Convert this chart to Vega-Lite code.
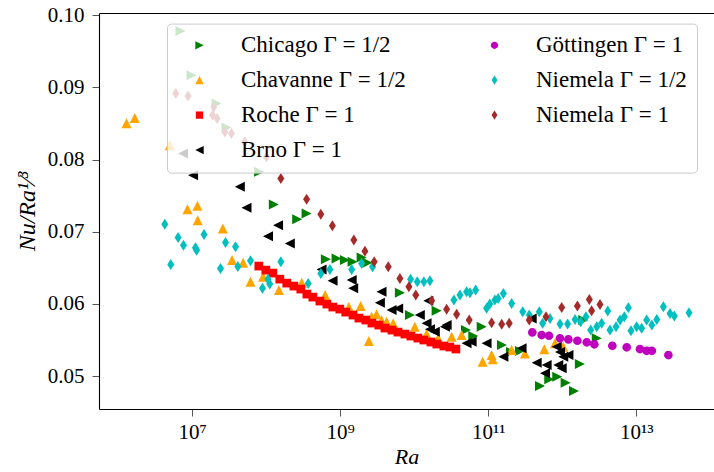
{
  "$schema": "https://vega.github.io/schema/vega-lite/v6.json",
  "width": 615,
  "height": 396,
  "autosize": {"type": "none"},
  "padding": {"left": 99, "top": 13, "right": 0, "bottom": 63},
  "background": "white",
  "config": {
    "font": "Liberation Serif",
    "view": {"stroke": null},
    "axis": {"grid": false, "domainColor": "#000000", "domainWidth": 1.1, "tickColor": "#555555", "tickSize": 7, "tickWidth": 1, "labelFont": "Liberation Serif", "labelFontSize": 21, "labelColor": "#000000", "titleFont": "Liberation Serif", "titleFontSize": 22, "titleFontWeight": "normal", "titleFontStyle": "italic", "titleColor": "#000000"}
  },
  "datasets": {
    "pts": [
      {"s": "Chicago Γ = 1/2", "Ra": 6.97e6, "Nu": 0.09782},
      {"s": "Chicago Γ = 1/2", "Ra": 9.82e6, "Nu": 0.09169},
      {"s": "Chicago Γ = 1/2", "Ra": 2.14e7, "Nu": 0.08777},
      {"s": "Chicago Γ = 1/2", "Ra": 2.92e7, "Nu": 0.08444},
      {"s": "Chicago Γ = 1/2", "Ra": 8.04e7, "Nu": 0.0783},
      {"s": "Chicago Γ = 1/2", "Ra": 1.27e8, "Nu": 0.07378},
      {"s": "Chicago Γ = 1/2", "Ra": 2.63e8, "Nu": 0.07174},
      {"s": "Chicago Γ = 1/2", "Ra": 3.52e8, "Nu": 0.07253},
      {"s": "Chicago Γ = 1/2", "Ra": 6.41e8, "Nu": 0.0662},
      {"s": "Chicago Γ = 1/2", "Ra": 8.94e8, "Nu": 0.0663},
      {"s": "Chicago Γ = 1/2", "Ra": 1.16e9, "Nu": 0.06607},
      {"s": "Chicago Γ = 1/2", "Ra": 1.47e9, "Nu": 0.06583},
      {"s": "Chicago Γ = 1/2", "Ra": 1.95e9, "Nu": 0.06644},
      {"s": "Chicago Γ = 1/2", "Ra": 2.34e9, "Nu": 0.06569},
      {"s": "Chicago Γ = 1/2", "Ra": 6.41e9, "Nu": 0.06154},
      {"s": "Chicago Γ = 1/2", "Ra": 8.75e9, "Nu": 0.05845},
      {"s": "Chicago Γ = 1/2", "Ra": 2.01e10, "Nu": 0.05904},
      {"s": "Chicago Γ = 1/2", "Ra": 5.0e10, "Nu": 0.05637},
      {"s": "Chicago Γ = 1/2", "Ra": 6.27e10, "Nu": 0.05554},
      {"s": "Chicago Γ = 1/2", "Ra": 8.15e10, "Nu": 0.05683},
      {"s": "Chicago Γ = 1/2", "Ra": 1.53e11, "Nu": 0.05429},
      {"s": "Chicago Γ = 1/2", "Ra": 2.03e11, "Nu": 0.05332},
      {"s": "Chicago Γ = 1/2", "Ra": 2.68e11, "Nu": 0.05346},
      {"s": "Chicago Γ = 1/2", "Ra": 5.0e11, "Nu": 0.04861},
      {"s": "Chicago Γ = 1/2", "Ra": 6.67e11, "Nu": 0.04954},
      {"s": "Chicago Γ = 1/2", "Ra": 8.55e11, "Nu": 0.0499},
      {"s": "Chicago Γ = 1/2", "Ra": 1.11e12, "Nu": 0.04907},
      {"s": "Chicago Γ = 1/2", "Ra": 1.44e12, "Nu": 0.04792},
      {"s": "Chicago Γ = 1/2", "Ra": 1.73e12, "Nu": 0.05166},
      {"s": "Chicago Γ = 1/2", "Ra": 1.92e12, "Nu": 0.05776},
      {"s": "Chicago Γ = 1/2", "Ra": 2.92e12, "Nu": 0.05522},
      {"s": "Chavanne Γ = 1/2", "Ra": 1.3e6, "Nu": 0.08504},
      {"s": "Chavanne Γ = 1/2", "Ra": 1.68e6, "Nu": 0.08578},
      {"s": "Chavanne Γ = 1/2", "Ra": 5.0e6, "Nu": 0.08199},
      {"s": "Chavanne Γ = 1/2", "Ra": 8.67e6, "Nu": 0.07313},
      {"s": "Chavanne Γ = 1/2", "Ra": 1.18e7, "Nu": 0.07359},
      {"s": "Chavanne Γ = 1/2", "Ra": 1.19e7, "Nu": 0.07161},
      {"s": "Chavanne Γ = 1/2", "Ra": 2.6e7, "Nu": 0.07046},
      {"s": "Chavanne Γ = 1/2", "Ra": 3.47e7, "Nu": 0.06607},
      {"s": "Chavanne Γ = 1/2", "Ra": 4.89e7, "Nu": 0.06569},
      {"s": "Chavanne Γ = 1/2", "Ra": 6.15e7, "Nu": 0.06306},
      {"s": "Chavanne Γ = 1/2", "Ra": 9.1e7, "Nu": 0.06375},
      {"s": "Chavanne Γ = 1/2", "Ra": 1.49e8, "Nu": 0.06191},
      {"s": "Chavanne Γ = 1/2", "Ra": 3.03e8, "Nu": 0.06292},
      {"s": "Chavanne Γ = 1/2", "Ra": 6.27e8, "Nu": 0.06122},
      {"s": "Chavanne Γ = 1/2", "Ra": 1.31e9, "Nu": 0.0596},
      {"s": "Chavanne Γ = 1/2", "Ra": 1.89e9, "Nu": 0.0597},
      {"s": "Chavanne Γ = 1/2", "Ra": 2.44e9, "Nu": 0.05485},
      {"s": "Chavanne Γ = 1/2", "Ra": 2.66e9, "Nu": 0.05821},
      {"s": "Chavanne Γ = 1/2", "Ra": 3.1e9, "Nu": 0.05855},
      {"s": "Chavanne Γ = 1/2", "Ra": 3.62e9, "Nu": 0.05776},
      {"s": "Chavanne Γ = 1/2", "Ra": 4.24e9, "Nu": 0.05752},
      {"s": "Chavanne Γ = 1/2", "Ra": 5.2e9, "Nu": 0.0573},
      {"s": "Chavanne Γ = 1/2", "Ra": 1.02e10, "Nu": 0.05683},
      {"s": "Chavanne Γ = 1/2", "Ra": 1.47e10, "Nu": 0.05582},
      {"s": "Chavanne Γ = 1/2", "Ra": 2.11e10, "Nu": 0.05522},
      {"s": "Chavanne Γ = 1/2", "Ra": 3.2e10, "Nu": 0.05545},
      {"s": "Chavanne Γ = 1/2", "Ra": 4.37e10, "Nu": 0.05568},
      {"s": "Chavanne Γ = 1/2", "Ra": 8.4e10, "Nu": 0.05198},
      {"s": "Chavanne Γ = 1/2", "Ra": 1.11e11, "Nu": 0.05291},
      {"s": "Chavanne Γ = 1/2", "Ra": 1.15e11, "Nu": 0.05231},
      {"s": "Chavanne Γ = 1/2", "Ra": 2.07e11, "Nu": 0.0536},
      {"s": "Chavanne Γ = 1/2", "Ra": 3.13e11, "Nu": 0.05314},
      {"s": "Chavanne Γ = 1/2", "Ra": 5.71e11, "Nu": 0.0537},
      {"s": "Chavanne Γ = 1/2", "Ra": 7.96e11, "Nu": 0.05453},
      {"s": "Chavanne Γ = 1/2", "Ra": 1.03e12, "Nu": 0.05406},
      {"s": "Roche Γ = 1", "Ra": 7.96e7, "Nu": 0.06524},
      {"s": "Roche Γ = 1", "Ra": 9.9e7, "Nu": 0.06468},
      {"s": "Roche Γ = 1", "Ra": 1.23e8, "Nu": 0.06427},
      {"s": "Roche Γ = 1", "Ra": 1.53e8, "Nu": 0.06343},
      {"s": "Roche Γ = 1", "Ra": 1.9e8, "Nu": 0.06288},
      {"s": "Roche Γ = 1", "Ra": 2.37e8, "Nu": 0.06247},
      {"s": "Roche Γ = 1", "Ra": 2.94e8, "Nu": 0.06205},
      {"s": "Roche Γ = 1", "Ra": 3.55e8, "Nu": 0.06136},
      {"s": "Roche Γ = 1", "Ra": 4.28e8, "Nu": 0.06094},
      {"s": "Roche Γ = 1", "Ra": 5.32e8, "Nu": 0.06039},
      {"s": "Roche Γ = 1", "Ra": 6.61e8, "Nu": 0.05997},
      {"s": "Roche Γ = 1", "Ra": 7.96e8, "Nu": 0.05956},
      {"s": "Roche Γ = 1", "Ra": 9.9e8, "Nu": 0.05928},
      {"s": "Roche Γ = 1", "Ra": 1.19e9, "Nu": 0.05886},
      {"s": "Roche Γ = 1", "Ra": 1.49e9, "Nu": 0.05845},
      {"s": "Roche Γ = 1", "Ra": 1.79e9, "Nu": 0.05803},
      {"s": "Roche Γ = 1", "Ra": 2.22e9, "Nu": 0.05776},
      {"s": "Roche Γ = 1", "Ra": 2.68e9, "Nu": 0.05734},
      {"s": "Roche Γ = 1", "Ra": 3.33e9, "Nu": 0.05706},
      {"s": "Roche Γ = 1", "Ra": 4.02e9, "Nu": 0.05665},
      {"s": "Roche Γ = 1", "Ra": 5.0e9, "Nu": 0.05637},
      {"s": "Roche Γ = 1", "Ra": 6.03e9, "Nu": 0.05609},
      {"s": "Roche Γ = 1", "Ra": 7.48e9, "Nu": 0.05582},
      {"s": "Roche Γ = 1", "Ra": 9.02e9, "Nu": 0.05554},
      {"s": "Roche Γ = 1", "Ra": 1.12e10, "Nu": 0.05526},
      {"s": "Roche Γ = 1", "Ra": 1.35e10, "Nu": 0.05499},
      {"s": "Roche Γ = 1", "Ra": 1.68e10, "Nu": 0.05471},
      {"s": "Roche Γ = 1", "Ra": 2.02e10, "Nu": 0.05443},
      {"s": "Roche Γ = 1", "Ra": 2.52e10, "Nu": 0.05416},
      {"s": "Roche Γ = 1", "Ra": 3.03e10, "Nu": 0.05402},
      {"s": "Roche Γ = 1", "Ra": 3.66e10, "Nu": 0.05374},
      {"s": "Brno Γ = 1", "Ra": 7.55e6, "Nu": 0.08084},
      {"s": "Brno Γ = 1", "Ra": 1.03e7, "Nu": 0.07784},
      {"s": "Brno Γ = 1", "Ra": 4.41e7, "Nu": 0.07622},
      {"s": "Brno Γ = 1", "Ra": 5.43e7, "Nu": 0.07331},
      {"s": "Brno Γ = 1", "Ra": 1.45e8, "Nu": 0.07091},
      {"s": "Brno Γ = 1", "Ra": 1.06e8, "Nu": 0.06939},
      {"s": "Brno Γ = 1", "Ra": 2.09e8, "Nu": 0.06838},
      {"s": "Brno Γ = 1", "Ra": 5.61e8, "Nu": 0.06478},
      {"s": "Brno Γ = 1", "Ra": 7.89e8, "Nu": 0.0632},
      {"s": "Brno Γ = 1", "Ra": 1.43e9, "Nu": 0.0633},
      {"s": "Brno Γ = 1", "Ra": 1.5e9, "Nu": 0.06215},
      {"s": "Brno Γ = 1", "Ra": 3.62e9, "Nu": 0.06168},
      {"s": "Brno Γ = 1", "Ra": 3.44e9, "Nu": 0.06015},
      {"s": "Brno Γ = 1", "Ra": 4.95e9, "Nu": 0.05914},
      {"s": "Brno Γ = 1", "Ra": 6.08e9, "Nu": 0.05937},
      {"s": "Brno Γ = 1", "Ra": 1.19e10, "Nu": 0.05845},
      {"s": "Brno Γ = 1", "Ra": 1.55e10, "Nu": 0.06043},
      {"s": "Brno Γ = 1", "Ra": 1.47e10, "Nu": 0.0573},
      {"s": "Brno Γ = 1", "Ra": 1.63e10, "Nu": 0.05647},
      {"s": "Brno Γ = 1", "Ra": 1.9e10, "Nu": 0.05614},
      {"s": "Brno Γ = 1", "Ra": 2.6e10, "Nu": 0.05683},
      {"s": "Brno Γ = 1", "Ra": 2.74e10, "Nu": 0.05706},
      {"s": "Brno Γ = 1", "Ra": 5.1e10, "Nu": 0.05453},
      {"s": "Brno Γ = 1", "Ra": 5.97e10, "Nu": 0.05475},
      {"s": "Brno Γ = 1", "Ra": 9.5e10, "Nu": 0.05453},
      {"s": "Brno Γ = 1", "Ra": 1.6e11, "Nu": 0.05267},
      {"s": "Brno Γ = 1", "Ra": 2.82e11, "Nu": 0.05384},
      {"s": "Brno Γ = 1", "Ra": 3.86e11, "Nu": 0.05799},
      {"s": "Brno Γ = 1", "Ra": 4.51e11, "Nu": 0.05184},
      {"s": "Brno Γ = 1", "Ra": 6.15e11, "Nu": 0.05152},
      {"s": "Brno Γ = 1", "Ra": 5.84e11, "Nu": 0.05037},
      {"s": "Brno Γ = 1", "Ra": 8.4e11, "Nu": 0.05406},
      {"s": "Brno Γ = 1", "Ra": 9.31e11, "Nu": 0.05332},
      {"s": "Brno Γ = 1", "Ra": 1.03e12, "Nu": 0.05267},
      {"s": "Brno Γ = 1", "Ra": 1.21e12, "Nu": 0.05291},
      {"s": "Brno Γ = 1", "Ra": 8.83e11, "Nu": 0.05152},
      {"s": "Brno Γ = 1", "Ra": 9.82e11, "Nu": 0.05107},
      {"s": "Göttingen Γ = 1", "Ra": 3.94e11, "Nu": 0.05605},
      {"s": "Göttingen Γ = 1", "Ra": 5.27e11, "Nu": 0.05568},
      {"s": "Göttingen Γ = 1", "Ra": 6.61e11, "Nu": 0.05558},
      {"s": "Göttingen Γ = 1", "Ra": 9.31e11, "Nu": 0.05522},
      {"s": "Göttingen Γ = 1", "Ra": 1.21e12, "Nu": 0.05508},
      {"s": "Göttingen Γ = 1", "Ra": 1.6e12, "Nu": 0.05489},
      {"s": "Göttingen Γ = 1", "Ra": 2.14e12, "Nu": 0.05467},
      {"s": "Göttingen Γ = 1", "Ra": 2.71e12, "Nu": 0.05439},
      {"s": "Göttingen Γ = 1", "Ra": 4.74e12, "Nu": 0.0542},
      {"s": "Göttingen Γ = 1", "Ra": 7.42e12, "Nu": 0.05398},
      {"s": "Göttingen Γ = 1", "Ra": 1.12e13, "Nu": 0.05374},
      {"s": "Göttingen Γ = 1", "Ra": 1.38e13, "Nu": 0.0535},
      {"s": "Göttingen Γ = 1", "Ra": 1.62e13, "Nu": 0.0535},
      {"s": "Göttingen Γ = 1", "Ra": 2.71e13, "Nu": 0.05291},
      {"s": "Niemela Γ = 1/2", "Ra": 4.28e6, "Nu": 0.07105},
      {"s": "Niemela Γ = 1/2", "Ra": 5.15e6, "Nu": 0.06547},
      {"s": "Niemela Γ = 1/2", "Ra": 6.47e6, "Nu": 0.06921},
      {"s": "Niemela Γ = 1/2", "Ra": 7.65e6, "Nu": 0.06814},
      {"s": "Niemela Γ = 1/2", "Ra": 1.11e7, "Nu": 0.06777},
      {"s": "Niemela Γ = 1/2", "Ra": 1.15e7, "Nu": 0.06745},
      {"s": "Niemela Γ = 1/2", "Ra": 1.45e7, "Nu": 0.06963},
      {"s": "Niemela Γ = 1/2", "Ra": 2.42e7, "Nu": 0.06492},
      {"s": "Niemela Γ = 1/2", "Ra": 2.83e7, "Nu": 0.06852},
      {"s": "Niemela Γ = 1/2", "Ra": 3.86e7, "Nu": 0.06791},
      {"s": "Niemela Γ = 1/2", "Ra": 4.15e7, "Nu": 0.06517},
      {"s": "Niemela Γ = 1/2", "Ra": 6.15e7, "Nu": 0.06597},
      {"s": "Niemela Γ = 1/2", "Ra": 8.93e7, "Nu": 0.06215},
      {"s": "Niemela Γ = 1/2", "Ra": 1.06e8, "Nu": 0.06343},
      {"s": "Niemela Γ = 1/2", "Ra": 1.12e8, "Nu": 0.06274},
      {"s": "Niemela Γ = 1/2", "Ra": 1.58e8, "Nu": 0.06583},
      {"s": "Niemela Γ = 1/2", "Ra": 3.7e8, "Nu": 0.06284},
      {"s": "Niemela Γ = 1/2", "Ra": 5.48e8, "Nu": 0.06422},
      {"s": "Niemela Γ = 1/2", "Ra": 7.26e8, "Nu": 0.06478},
      {"s": "Niemela Γ = 1/2", "Ra": 1.43e9, "Nu": 0.06478},
      {"s": "Niemela Γ = 1/2", "Ra": 1.95e9, "Nu": 0.06561},
      {"s": "Niemela Γ = 1/2", "Ra": 2.74e9, "Nu": 0.06514},
      {"s": "Niemela Γ = 1/2", "Ra": 8.93e9, "Nu": 0.06343},
      {"s": "Niemela Γ = 1/2", "Ra": 1.1e10, "Nu": 0.06306},
      {"s": "Niemela Γ = 1/2", "Ra": 1.35e10, "Nu": 0.06306},
      {"s": "Niemela Γ = 1/2", "Ra": 1.63e10, "Nu": 0.0632},
      {"s": "Niemela Γ = 1/2", "Ra": 3.44e10, "Nu": 0.06053},
      {"s": "Niemela Γ = 1/2", "Ra": 4.15e10, "Nu": 0.06122},
      {"s": "Niemela Γ = 1/2", "Ra": 5.1e10, "Nu": 0.06168},
      {"s": "Niemela Γ = 1/2", "Ra": 5.66e10, "Nu": 0.06154},
      {"s": "Niemela Γ = 1/2", "Ra": 6.76e10, "Nu": 0.06191},
      {"s": "Niemela Γ = 1/2", "Ra": 9.5e10, "Nu": 0.05938},
      {"s": "Niemela Γ = 1/2", "Ra": 1.05e11, "Nu": 0.05997},
      {"s": "Niemela Γ = 1/2", "Ra": 1.23e11, "Nu": 0.06053},
      {"s": "Niemela Γ = 1/2", "Ra": 1.36e11, "Nu": 0.06076},
      {"s": "Niemela Γ = 1/2", "Ra": 1.6e11, "Nu": 0.06145},
      {"s": "Niemela Γ = 1/2", "Ra": 2.07e11, "Nu": 0.06007},
      {"s": "Niemela Γ = 1/2", "Ra": 2.92e11, "Nu": 0.05891},
      {"s": "Niemela Γ = 1/2", "Ra": 3.58e11, "Nu": 0.05845},
      {"s": "Niemela Γ = 1/2", "Ra": 4.89e11, "Nu": 0.05891},
      {"s": "Niemela Γ = 1/2", "Ra": 5.43e11, "Nu": 0.0573},
      {"s": "Niemela Γ = 1/2", "Ra": 6.82e11, "Nu": 0.05799},
      {"s": "Niemela Γ = 1/2", "Ra": 9.31e11, "Nu": 0.0572},
      {"s": "Niemela Γ = 1/2", "Ra": 1.18e12, "Nu": 0.0572},
      {"s": "Niemela Γ = 1/2", "Ra": 1.49e12, "Nu": 0.05785},
      {"s": "Niemela Γ = 1/2", "Ra": 1.77e12, "Nu": 0.05752},
      {"s": "Niemela Γ = 1/2", "Ra": 2.09e12, "Nu": 0.05821},
      {"s": "Niemela Γ = 1/2", "Ra": 2.42e12, "Nu": 0.05637},
      {"s": "Niemela Γ = 1/2", "Ra": 2.92e12, "Nu": 0.05683},
      {"s": "Niemela Γ = 1/2", "Ra": 3.4e12, "Nu": 0.0573},
      {"s": "Niemela Γ = 1/2", "Ra": 4.11e12, "Nu": 0.059},
      {"s": "Niemela Γ = 1/2", "Ra": 4.41e12, "Nu": 0.05637},
      {"s": "Niemela Γ = 1/2", "Ra": 5.32e12, "Nu": 0.05683},
      {"s": "Niemela Γ = 1/2", "Ra": 6.03e12, "Nu": 0.05776},
      {"s": "Niemela Γ = 1/2", "Ra": 6.89e12, "Nu": 0.05821},
      {"s": "Niemela Γ = 1/2", "Ra": 7.8e12, "Nu": 0.05946},
      {"s": "Niemela Γ = 1/2", "Ra": 8.47e12, "Nu": 0.05627},
      {"s": "Niemela Γ = 1/2", "Ra": 1.01e13, "Nu": 0.05683},
      {"s": "Niemela Γ = 1/2", "Ra": 1.18e13, "Nu": 0.05661},
      {"s": "Niemela Γ = 1/2", "Ra": 1.38e13, "Nu": 0.05776},
      {"s": "Niemela Γ = 1/2", "Ra": 1.62e13, "Nu": 0.05706},
      {"s": "Niemela Γ = 1/2", "Ra": 1.89e13, "Nu": 0.05785},
      {"s": "Niemela Γ = 1/2", "Ra": 2.32e13, "Nu": 0.0596},
      {"s": "Niemela Γ = 1/2", "Ra": 2.85e13, "Nu": 0.05868},
      {"s": "Niemela Γ = 1/2", "Ra": 3.26e13, "Nu": 0.05831},
      {"s": "Niemela Γ = 1/2", "Ra": 5.15e13, "Nu": 0.05877},
      {"s": "Niemela Γ = 1", "Ra": 6.03e6, "Nu": 0.08915},
      {"s": "Niemela Γ = 1", "Ra": 8.83e6, "Nu": 0.08882},
      {"s": "Niemela Γ = 1", "Ra": 1.96e7, "Nu": 0.0873},
      {"s": "Niemela Γ = 1", "Ra": 1.89e7, "Nu": 0.08615},
      {"s": "Niemela Γ = 1", "Ra": 2.18e7, "Nu": 0.08569},
      {"s": "Niemela Γ = 1", "Ra": 2.77e7, "Nu": 0.08384},
      {"s": "Niemela Γ = 1", "Ra": 3.4e7, "Nu": 0.08361},
      {"s": "Niemela Γ = 1", "Ra": 5.15e7, "Nu": 0.08245},
      {"s": "Niemela Γ = 1", "Ra": 1.01e8, "Nu": 0.08037},
      {"s": "Niemela Γ = 1", "Ra": 1.58e8, "Nu": 0.07738},
      {"s": "Niemela Γ = 1", "Ra": 3.52e8, "Nu": 0.07451},
      {"s": "Niemela Γ = 1", "Ra": 5.48e8, "Nu": 0.07244},
      {"s": "Niemela Γ = 1", "Ra": 7.85e8, "Nu": 0.07082},
      {"s": "Niemela Γ = 1", "Ra": 1.53e9, "Nu": 0.06884},
      {"s": "Niemela Γ = 1", "Ra": 2.16e9, "Nu": 0.06731},
      {"s": "Niemela Γ = 1", "Ra": 2.88e9, "Nu": 0.06583},
      {"s": "Niemela Γ = 1", "Ra": 4.46e9, "Nu": 0.06514},
      {"s": "Niemela Γ = 1", "Ra": 6.41e9, "Nu": 0.06353},
      {"s": "Niemela Γ = 1", "Ra": 8.48e9, "Nu": 0.06237},
      {"s": "Niemela Γ = 1", "Ra": 1.05e10, "Nu": 0.06122},
      {"s": "Niemela Γ = 1", "Ra": 1.72e10, "Nu": 0.06043},
      {"s": "Niemela Γ = 1", "Ra": 2.74e10, "Nu": 0.05924},
      {"s": "Niemela Γ = 1", "Ra": 3.74e10, "Nu": 0.05855},
      {"s": "Niemela Γ = 1", "Ra": 5.53e10, "Nu": 0.05776},
      {"s": "Niemela Γ = 1", "Ra": 1.11e11, "Nu": 0.05738},
      {"s": "Niemela Γ = 1", "Ra": 1.52e11, "Nu": 0.05716},
      {"s": "Niemela Γ = 1", "Ra": 1.92e11, "Nu": 0.0573},
      {"s": "Niemela Γ = 1", "Ra": 3.58e11, "Nu": 0.05776},
      {"s": "Niemela Γ = 1", "Ra": 6.03e11, "Nu": 0.05821},
      {"s": "Niemela Γ = 1", "Ra": 9.82e11, "Nu": 0.05951},
      {"s": "Niemela Γ = 1", "Ra": 1.6e12, "Nu": 0.0597},
      {"s": "Niemela Γ = 1", "Ra": 2.32e12, "Nu": 0.06062},
      {"s": "Niemela Γ = 1", "Ra": 2.49e12, "Nu": 0.05904},
      {"s": "Niemela Γ = 1", "Ra": 3.23e12, "Nu": 0.05993}
    ],
    "frame": [{"Ra": 1e7}]
  },
  "layer": [
    {
      "data": {"name": "pts"},
      "mark": {"type": "point", "filled": true, "opacity": 1, "size": 100},
      "encoding": {
        "x": {"field": "Ra", "type": "quantitative", "scale": {"type": "log", "domain": [553000, 1.12e14], "nice": false},
          "axis": {"values": [1e7, 1e9, 1e11, 1e13], "labelExpr": "datum.value == 1e7 ? '10⁷' : datum.value == 1e9 ? '10⁹' : datum.value == 1e11 ? '10¹¹' : '10¹³'", "title": "Ra", "labelPadding": 5, "titlePadding": 4}},
        "y": {"field": "Nu", "type": "quantitative", "scale": {"domain": [0.04543, 0.10032], "nice": false, "zero": false},
          "axis": {"values": [0.05, 0.06, 0.07, 0.08, 0.09, 0.10], "format": ".2f", "title": "Nu/Ra¹⁄³", "titleFontSize": 24, "labelPadding": 8, "titlePadding": 8}},
        "color": {"field": "s", "type": "nominal",
          "scale": {"domain": ["Chicago Γ = 1/2", "Chavanne Γ = 1/2", "Roche Γ = 1", "Brno Γ = 1", "Göttingen Γ = 1", "Niemela Γ = 1/2", "Niemela Γ = 1"],
                    "range": ["#008000", "#FFA500", "#FF0000", "#000000", "#BF00BF", "#00BFBF", "#A52A2A"]},
          "legend": {"title": null, "orient": "none", "legendX": 68, "legendY": 10.6, "columns": 2, "gridAlign": "each", "fillColor": "rgba(255,255,255,0.8)", "strokeColor": "#cccccc", "cornerRadius": 4, "padding": 10, "labelFont": "Liberation Serif", "labelFontSize": 23, "labelColor": "#000000", "symbolSize": 70, "symbolOffset": 11, "labelOffset": 30, "rowPadding": 11, "columnPadding": 66, "symbolStrokeWidth": 0, "labelLimit": 300}},
        "shape": {"field": "s", "type": "nominal",
          "scale": {"domain": ["Chicago Γ = 1/2", "Chavanne Γ = 1/2", "Roche Γ = 1", "Brno Γ = 1", "Göttingen Γ = 1", "Niemela Γ = 1/2", "Niemela Γ = 1"],
                    "range": ["M-1,-1L1,0L-1,1Z", "M0,-1L1,1L-1,1Z", "M-0.87,-0.87L0.87,-0.87L0.87,0.87L-0.87,0.87Z", "M1,-1L-1,0L1,1Z", "M0.87,0A0.87,0.87 0 1,1 -0.87,0A0.87,0.87 0 1,1 0.87,0Z", "M0,-1.1L0.7,0L0,1.1L-0.7,0Z", "M0,-1.1L0.7,0L0,1.1L-0.7,0Z"]},
          "legend": {"title": null, "orient": "none", "legendX": 68, "legendY": 10.6, "columns": 2, "gridAlign": "each", "fillColor": "rgba(255,255,255,0.8)", "strokeColor": "#cccccc", "cornerRadius": 4, "padding": 10, "labelFont": "Liberation Serif", "labelFontSize": 23, "labelColor": "#000000", "symbolSize": 70, "symbolOffset": 11, "labelOffset": 30, "rowPadding": 11, "columnPadding": 66, "symbolStrokeWidth": 0, "labelLimit": 300}}
      }
    },
    {
      "data": {"name": "frame"},
      "mark": {"type": "point", "opacity": 0},
      "encoding": {
        "x": {"field": "Ra", "type": "quantitative", "axis": {"orient": "top", "labels": false, "ticks": false, "title": null, "domain": true}}
      }
    }
  ],
  "resolve": {"axis": {"x": "independent"}}
}
